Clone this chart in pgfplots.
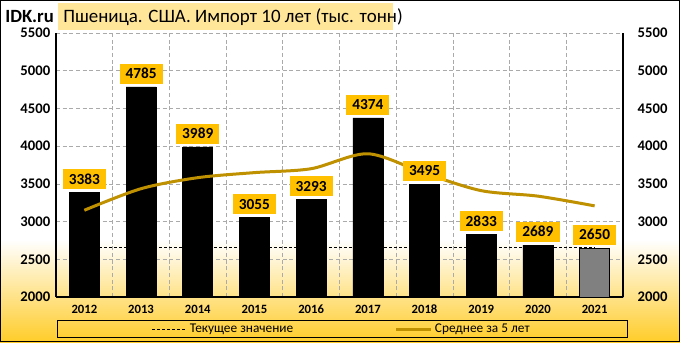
\documentclass[border=0pt]{standalone}
\usepackage{fontspec}
\setmainfont{Carlito}
\usepackage{pgfplots}
\pgfplotsset{compat=1.18}
\definecolor{lbl}{RGB}{255,192,0}
\definecolor{avg}{RGB}{191,144,0}
\definecolor{ttl}{RGB}{255,230,153}
\definecolor{bgg}{RGB}{255,204,41}
\definecolor{grd}{RGB}{170,170,170}
\definecolor{barg}{RGB}{128,128,128}
\begin{document}
\begin{tikzpicture}
\fill[white] (0,76.5pt) rectangle (510pt,256.5pt);
\shade[top color=white, bottom color=bgg] (0,0) rectangle (510pt,76.5pt);
\fill[ttl] (43.5pt,234pt) rectangle (294.75pt,254.25pt);
\node[anchor=west, inner sep=0pt, font=\fontsize{14.2}{14.2}\selectfont] at (47.25pt,244pt) {Пшеница. США. Импорт 10 лет (тыс. тонн)};
\node[anchor=west, inner sep=0pt, font=\bfseries\fontsize{14}{14}\selectfont] at (3.75pt,243.75pt) {IDK.ru};

\begin{axis}[at={(42pt,33.75pt)}, anchor=south west, scale only axis,
  width=425.25pt, height=198pt,
  xmin=-0.5, xmax=9.5, ymin=2000, ymax=5500,
  axis lines*=left, axis line style={-, black, line width=0.8pt},
  xtick={0,1,2,3,4,5,6,7,8,9},
  xticklabels={2012,2013,2014,2015,2016,2017,2018,2019,2020,2021},
  ytick={2000,2500,3000,3500,4000,4500,5000,5500},
  minor xtick={0.5,1.5,2.5,3.5,4.5,5.5,6.5,7.5,8.5},
  ymajorgrids, xminorgrids,
  grid style={dash pattern=on 3pt off 2pt, grd, line width=0.5pt},
  major tick length=0pt, minor tick length=0pt,
  /pgf/number format/assume math mode=true,
  /pgf/number format/set thousands separator={},
  yticklabel style={font=\bfseries\fontsize{11}{11}\selectfont, xshift=-0.8pt},
  xticklabel style={font=\bfseries\fontsize{9.5}{9.5}\selectfont, yshift=-2.5pt},
  legend image code/.code={\draw[#1] (0pt,0pt) -- (26pt,0pt);},
  legend style={at={(axis description cs:0.5044,-0.0871)}, anchor=north,
    legend columns=2, draw=black, line width=0.6pt, fill=none,
    inner xsep=71pt, inner ysep=0.5pt,
    font=\fontsize{10}{10}\selectfont,
    /tikz/every even column/.append style={column sep=74pt}},
]
\addplot[black, line width=0.75pt, dash pattern=on 2.25pt off 1.5pt] coordinates {(0,2650) (9,2650)};
\addlegendentry{Текущее значение}
\addplot[ybar, bar width=22.5pt, bar shift=0pt, fill=black, draw=black, forget plot]
  coordinates {(0,3383) (1,4785) (2,3989) (3,3055) (4,3293) (5,4374) (6,3495) (7,2833) (8,2689)};
\addplot[ybar, bar width=22.5pt, bar shift=0pt, fill=barg, draw=black, line width=0.6pt, forget plot]
  coordinates {(9,2650)};
\addplot[avg, line width=2.25pt, smooth]
  coordinates {(0,3150) (1,3436) (2,3582) (3,3649) (4,3701) (5,3899) (6,3641) (7,3410) (8,3337) (9,3208)};
\addlegendentry{Среднее за 5 лет}
\addplot[draw=none, mark=none, forget plot, nodes near coords, point meta=y,
  nodes near coords style={fill=lbl, font=\bfseries\fontsize{11.5}{11.5}\selectfont,
    inner xsep=4.5pt, inner ysep=0pt, minimum height=15pt, anchor=south, yshift=2.25pt}]
  coordinates {(0,3383) (1,4785) (2,3989) (3,3055) (4,3293) (5,4374) (6,3495) (7,2833) (8,2689) (9,2650)};
\end{axis}

\begin{axis}[at={(42pt,33.75pt)}, anchor=south west, scale only axis,
  width=425.25pt, height=198pt,
  xmin=-0.5, xmax=9.5, ymin=2000, ymax=5500,
  axis y line*=right, axis x line=none, axis line style={-, black, line width=0.8pt},
  ytick={2000,2500,3000,3500,4000,4500,5000,5500},
  major tick length=0pt,
  /pgf/number format/assume math mode=true,
  /pgf/number format/set thousands separator={},
  yticklabel style={font=\bfseries\fontsize{11}{11}\selectfont, xshift=7.5pt},
]
\addplot[draw=none] coordinates {(0,2000)};
\end{axis}
\draw[black, line width=0.6pt] (0.3pt,0.3pt) rectangle (509.7pt,256.2pt);
\pgfresetboundingbox
\useasboundingbox (0,0) rectangle (510pt,256.5pt);
\end{tikzpicture}
\end{document}
